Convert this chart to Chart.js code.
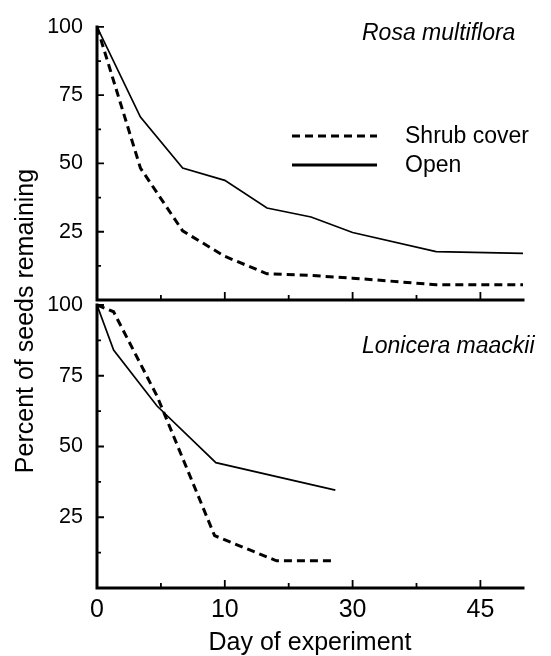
<!DOCTYPE html>
<html>
<head>
<meta charset="utf-8">
<script src="https://cdn.jsdelivr.net/npm/chart.js@4.4.0/dist/chart.umd.min.js"></script>
<style>
  html, body { margin: 0; padding: 0; background: #fff; }
  #wrap { position: relative; width: 551px; height: 656px; }
  #wrap canvas { position: absolute; left: 0; top: 0; }
</style>
</head>
<body>
<div id="wrap">
  <canvas id="bottomChart" width="551" height="656"></canvas>
  <canvas id="topChart" width="551" height="656"></canvas>
</div>
<script>
// x axis is broken into equal-width segments between these days
const tickDays = [0, 10, 30, 45];
const tickLabels = ["0", "10", "30", "45"];
const minorDays = [5, 20, 37.5];
const lastDay = 50;

const yTicks = [25, 50, 75, 100];
const yMinor = [12.5, 37.5, 62.5, 87.5];

// Rosa multiflora (top panel)
const rosaDays = [0, 3.4, 6.7, 10, 16.6, 23.5, 30, 39.8, 50];
const rosaShrub = [100, 48.3, 25.3, 16, 9.6, 9.0, 8.0, 5.6, 5.6];
const rosaOpen = [100, 67, 48.3, 43.8, 33.7, 30.4, 24.7, 17.7, 17.1];

// Lonicera maackii (bottom panel)
const lonShrubDays = [0, 1.3, 4.7, 9.2, 18.1, 27.3];
const lonShrub = [100, 97.6, 67.8, 18.5, 9.6, 9.6];
const lonOpenDays = [0, 1.3, 4.7, 9.3, 27.3];
const lonOpen = [100, 84.1, 64.3, 44.3, 34.6];

const FONT = "'Liberation Sans', Arial, Helvetica, sans-serif";

// map a day onto the segmented axis
function dayToPos(d) {
  for (let i = 1; i < tickDays.length; i++) {
    if (d <= tickDays[i]) {
      return i - 1 + (d - tickDays[i - 1]) / (tickDays[i] - tickDays[i - 1]);
    }
  }
  const n = tickDays.length - 1;
  return n + (d - tickDays[n]) / (tickDays[n] - tickDays[n - 1]);
}

function points(days, vals) {
  return days.map((d, i) => ({ x: dayToPos(d), y: vals[i] }));
}

function shrubSet(days, vals) {
  return {
    label: "Shrub cover",
    data: points(days, vals),
    borderColor: "#000",
    borderWidth: 3,
    borderDash: [8, 5],
    pointRadius: 0,
    tension: 0,
    fill: false,
  };
}

function openSet(days, vals) {
  return {
    label: "Open",
    data: points(days, vals),
    borderColor: "#000",
    borderWidth: 1.7,
    borderDash: [],
    pointRadius: 0,
    tension: 0,
    fill: false,
  };
}

// axis lines and inward tick marks
const framePlugin = {
  id: "frame",
  beforeDatasetsDraw(chart) {
    const { ctx, chartArea: a } = chart;
    const x = chart.scales.x;
    const y = chart.scales.y;
    ctx.save();
    ctx.strokeStyle = "#000";
    ctx.lineWidth = 3;
    ctx.lineCap = "square";
    ctx.beginPath();
    ctx.moveTo(a.left, a.top);
    ctx.lineTo(a.left, a.bottom);
    ctx.lineTo(a.right, a.bottom);
    ctx.stroke();

    ctx.lineWidth = 1.8;
    ctx.lineCap = "butt";
    ctx.beginPath();
    yTicks.forEach((v) => {
      const py = y.getPixelForValue(v);
      ctx.moveTo(a.left, py);
      ctx.lineTo(a.left + 7, py);
    });
    yMinor.forEach((v) => {
      const py = y.getPixelForValue(v);
      ctx.moveTo(a.left, py);
      ctx.lineTo(a.left + 4, py);
    });
    tickDays.slice(1).forEach((d) => {
      const px = x.getPixelForValue(dayToPos(d));
      ctx.moveTo(px, a.bottom);
      ctx.lineTo(px, a.bottom - 8);
    });
    minorDays.forEach((d) => {
      const px = x.getPixelForValue(dayToPos(d));
      ctx.moveTo(px, a.bottom);
      ctx.lineTo(px, a.bottom - 5);
    });
    ctx.stroke();
    ctx.restore();
  },
};

// species name and optional legend / y title
const notesPlugin = {
  id: "notes",
  afterDraw(chart, args, opts) {
    const ctx = chart.ctx;
    ctx.save();
    ctx.fillStyle = "#000";
    ctx.font = "italic 23px " + FONT;
    ctx.textAlign = "left";
    ctx.textBaseline = "alphabetic";
    ctx.fillText(opts.species, 362, opts.speciesY);

    if (opts.legend) {
      chart.data.datasets.forEach((ds, i) => {
        const ly = 136 + i * 29;
        ctx.strokeStyle = ds.borderColor;
        ctx.lineWidth = 3;
        ctx.setLineDash(ds.borderDash);
        ctx.beginPath();
        ctx.moveTo(292, ly);
        ctx.lineTo(377, ly);
        ctx.stroke();
        ctx.setLineDash([]);
        ctx.font = "23px " + FONT;
        ctx.textBaseline = "middle";
        ctx.fillText(ds.label, 405, ly + 1);
      });
    }

    if (opts.yTitle) {
      ctx.font = "25px " + FONT;
      ctx.textAlign = "center";
      ctx.textBaseline = "alphabetic";
      ctx.translate(33, 321);
      ctx.rotate(-Math.PI / 2);
      ctx.fillText(opts.yTitle, 0, 0);
    }
    ctx.restore();
  },
};

function yScale() {
  return {
    type: "linear",
    min: 0,
    max: 100,
    afterBuildTicks: (s) => { s.ticks = yTicks.map((v) => ({ value: v })); },
    afterFit: (s) => { s.width = 97; },
    ticks: { color: "#000", font: { family: FONT, size: 21.5 }, padding: 14 },
    grid: { display: false, drawTicks: false },
    border: { display: false },
  };
}

function xScale(show) {
  return {
    type: "linear",
    display: show,
    min: 0,
    max: dayToPos(lastDay),
    afterBuildTicks: (s) => { s.ticks = tickDays.map((d) => ({ value: dayToPos(d) })); },
    afterFit: (s) => { if (show) s.height = 68; },
    ticks: {
      color: "#000",
      font: { family: FONT, size: 25 },
      padding: 7,
      maxRotation: 0,
      autoSkip: false,
      callback: (v, i) => tickLabels[i],
    },
    grid: { display: false, drawTicks: false },
    border: { display: false },
    title: {
      display: show,
      text: "Day of experiment",
      color: "#000",
      font: { family: FONT, size: 25 },
      padding: { top: 0, bottom: -2 },
    },
  };
}

new Chart(document.getElementById("topChart"), {
  type: "line",
  data: { datasets: [shrubSet(rosaDays, rosaShrub), openSet(rosaDays, rosaOpen)] },
  options: {
    responsive: false,
    animation: false,
    layout: { padding: { top: 17, bottom: 356, left: 0, right: 28 } },
    plugins: {
      legend: { display: false },
      tooltip: { enabled: false },
      notes: { species: "Rosa multiflora", speciesY: 40, legend: true },
    },
    scales: { x: xScale(false), y: yScale() },
  },
  plugins: [framePlugin, notesPlugin],
});

new Chart(document.getElementById("bottomChart"), {
  type: "line",
  data: { datasets: [shrubSet(lonShrubDays, lonShrub), openSet(lonOpenDays, lonOpen)] },
  options: {
    responsive: false,
    animation: false,
    layout: { padding: { top: 305, bottom: 0, left: 0, right: 28 } },
    plugins: {
      legend: { display: false },
      tooltip: { enabled: false },
      notes: { species: "Lonicera maackii", speciesY: 353, legend: false, yTitle: "Percent of seeds remaining" },
    },
    scales: { x: xScale(true), y: yScale() },
  },
  plugins: [framePlugin, notesPlugin],
});
</script>
</body>
</html>
